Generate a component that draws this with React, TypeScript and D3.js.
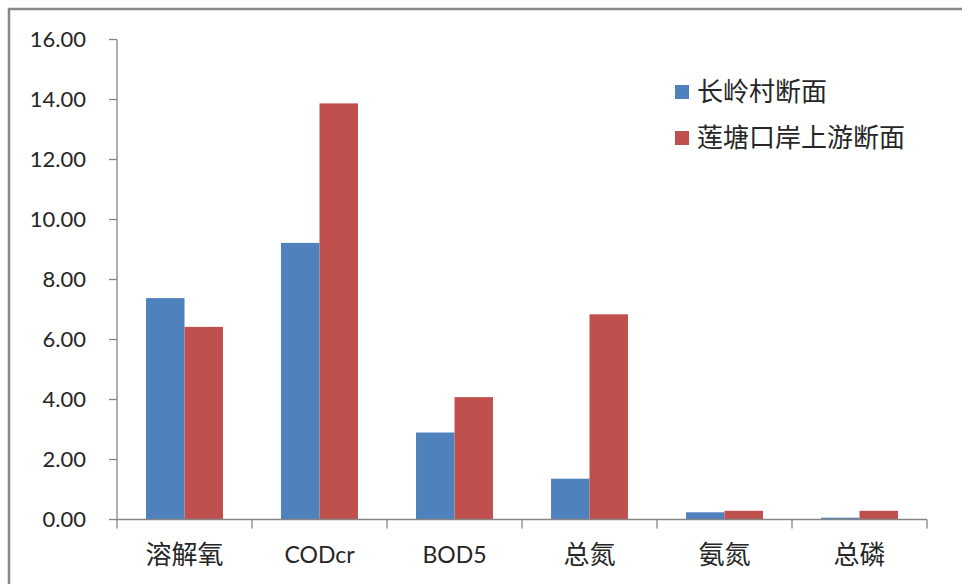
import React from "react";
import * as d3 from "d3";

const categories = ["溶解氧", "CODcr", "BOD5", "总氮", "氨氮", "总磷"];
const seriesNames = ["长岭村断面", "莲塘口岸上游断面"];
const changling = [7.38, 9.22, 2.9, 1.36, 0.24, 0.06];
const liantang = [6.42, 13.87, 4.08, 6.84, 0.29, 0.29];
const yTicks = [0, 2, 4, 6, 8, 10, 12, 14, 16];
const colors = ["#4F81BD", "#C0504D"];

const W = 962;
const H = 584;
const left = 117;
const right = 927;
const top = 39.5;
const bottom = 519.5;

export default function App() {
  const x0 = d3.scaleBand<string>().domain(categories).range([left, right]).paddingInner(0.43).paddingOuter(0.215);
  const x1 = d3.scaleBand<string>().domain(seriesNames).range([0, x0.bandwidth()]);
  const y = d3.scaleLinear().domain([0, 16]).range([bottom, top]);
  const series = [changling, liantang];
  const step = (right - left) / categories.length;
  const latin = "Lato, 'Open Sans', sans-serif";
  const cjk = "'Noto Sans CJK SC', sans-serif";
  const isLatin = (c: string) => /^[A-Za-z0-9]+$/.test(c);
  return (
    <svg width={W} height={H} style={{ position: "absolute", left: 0, top: 0, background: "#fff" }}>
      <rect x={9} y={9} width={W + 20} height={H + 20} fill="#fff" stroke="#888" strokeWidth={2.5} />
      {series.map((vals, si) =>
        vals.map((v, i) => (
          <rect
            key={`${si}-${i}`}
            x={(x0(categories[i]) as number) + (x1(seriesNames[si]) as number)}
            y={y(v)}
            width={x1.bandwidth()}
            height={bottom - y(v)}
            fill={colors[si]}
          />
        ))
      )}
      <line x1={left} x2={left} y1={top} y2={bottom} stroke="#868686" strokeWidth={1.3} />
      {yTicks.map((t) => (
        <g key={t}>
          <line x1={left - 8} x2={left} y1={y(t)} y2={y(t)} stroke="#868686" strokeWidth={1.3} />
          <text x={86} y={y(t)} dy="0.35em" textAnchor="end" fontFamily={latin} fontSize={22} fill="#262626">
            {t.toFixed(2)}
          </text>
        </g>
      ))}
      <line x1={left} x2={right} y1={bottom} y2={bottom} stroke="#868686" strokeWidth={1.3} />
      {d3.range(categories.length + 1).map((i) => (
        <line key={i} x1={left + i * step} x2={left + i * step} y1={bottom} y2={bottom + 9} stroke="#868686" strokeWidth={1.3} />
      ))}
      {categories.map((c) => (
        <text
          key={c}
          x={(x0(c) as number) + x0.bandwidth() / 2}
          y={555}
          dy="0.35em"
          textAnchor="middle"
          fontFamily={isLatin(c) ? latin : cjk}
          fontSize={isLatin(c) ? 23 : 26}
          fill="#262626"
        >
          {c}
        </text>
      ))}
      {seriesNames.map((s, i) => (
        <g key={s} transform={`translate(675, ${92 + i * 46})`}>
          <rect x={0} y={-7} width={14} height={14} fill={colors[i]} />
          <text x={22} y={0} dy="0.35em" fontFamily={cjk} fontSize={26} fill="#262626">
            {s}
          </text>
        </g>
      ))}
    </svg>
  );
}
